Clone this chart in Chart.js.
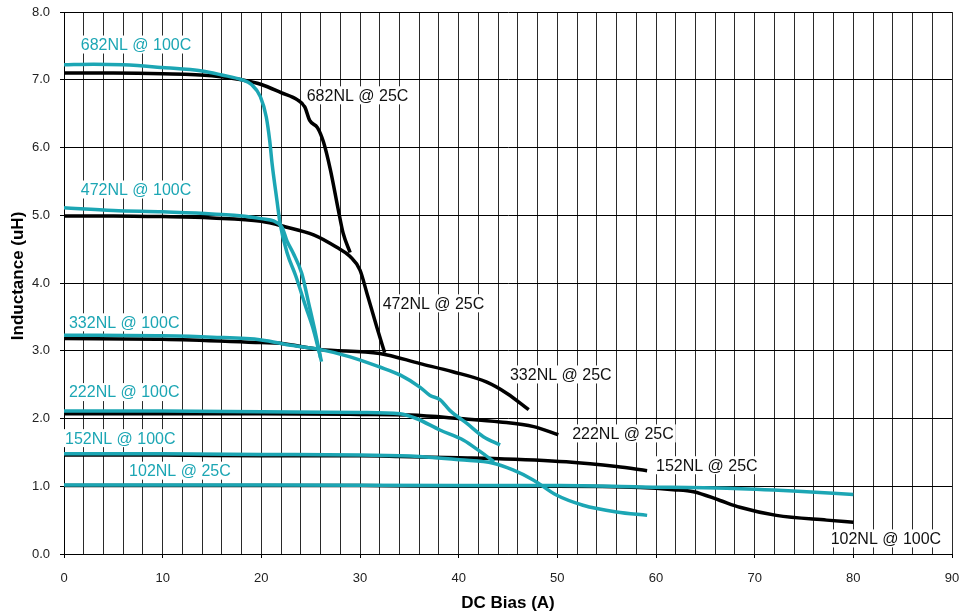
<!DOCTYPE html>
<html><head><meta charset="utf-8">
<script src="https://cdn.jsdelivr.net/npm/chart.js@4.4.1/dist/chart.umd.min.js"></script>
<style>html,body{margin:0;padding:0;background:#fff;}</style>
</head><body>
<canvas id="c" width="960" height="616"></canvas>
<script>
// ---- data (DC bias in A, inductance in uH) ----
const xTickLabels = [0, 10, 20, 30, 40, 50, 60, 70, 80, 90];
const yTickLabels = ['0.0','1.0','2.0','3.0','4.0','5.0','6.0','7.0','8.0'];

const bias682_25 = [0, 5, 10, 15, 18, 20, 22, 23.7, 24.4, 24.9, 25.7, 26.3, 27.0, 27.8, 28.3, 29.0];
const ind682_25  = [7.10, 7.10, 7.09, 7.06, 7.00, 6.93, 6.81, 6.70, 6.60, 6.40, 6.29, 6.08, 5.67, 5.08, 4.73, 4.45];

const bias682_100 = [0, 3, 6, 10, 14, 16, 18, 19.0, 19.9, 20.5, 20.85, 21.1, 21.6, 21.9, 22.6, 23.5, 24.5, 25.3, 26.1];
const ind682_100  = [7.22, 7.23, 7.22, 7.18, 7.13, 7.07, 7.00, 6.93, 6.75, 6.45, 6.10, 5.75, 5.20, 4.88, 4.45, 4.10, 3.65, 3.30, 2.84];

const bias472_25 = [0, 5, 10, 15, 20, 22.4, 25.3, 27.6, 29.0, 30.0, 30.7, 31.7, 32.5];
const ind472_25  = [4.99, 4.99, 4.98, 4.96, 4.91, 4.83, 4.71, 4.53, 4.39, 4.19, 3.85, 3.35, 2.97];

const bias472_100 = [0, 5, 10, 15, 20, 22.06, 22.6, 23.2, 24.1, 24.8, 25.5, 26.0];
const ind472_100  = [5.11, 5.07, 5.05, 5.02, 4.95, 4.83, 4.62, 4.45, 4.14, 3.70, 3.25, 2.90];

const bias332_25 = [0, 10, 20, 21.9, 25.9, 32.0, 36.1, 39.4, 42.8, 44.9, 47.1];
const ind332_25  = [3.18, 3.17, 3.12, 3.11, 3.02, 2.96, 2.81, 2.69, 2.54, 2.37, 2.13];

const bias332_100 = [0, 10, 15, 20, 23, 25.9, 29.0, 32.0, 34.1, 36.1, 37.1, 38.1, 39.1, 40.8, 42.5, 44.2];
const ind332_100  = [3.23, 3.22, 3.20, 3.16, 3.08, 3.02, 2.91, 2.76, 2.64, 2.46, 2.34, 2.28, 2.12, 1.93, 1.73, 1.61];

const bias222_25 = [0, 10, 20, 30, 35.1, 40.1, 44.2, 47.6, 50.1];
const ind222_25  = [2.07, 2.07, 2.07, 2.06, 2.05, 2.00, 1.95, 1.88, 1.76];

const bias222_100 = [0, 10, 20, 30, 34.05, 35.7, 38.1, 40.5, 42.2, 43.6];
const ind222_100  = [2.11, 2.11, 2.10, 2.09, 2.07, 2.00, 1.83, 1.68, 1.51, 1.36];

const bias152_25 = [0, 10, 20, 30, 34.05, 40, 43.5, 50.9, 56.0, 59.1];
const ind152_25  = [1.46, 1.46, 1.45, 1.45, 1.44, 1.42, 1.41, 1.36, 1.29, 1.23];

const bias152_100 = [0, 10, 20, 30, 36, 40.1, 43.5, 45.5, 47.6, 49.9, 52.6, 56.0, 59.1];
const ind152_100  = [1.48, 1.48, 1.47, 1.46, 1.44, 1.39, 1.34, 1.24, 1.09, 0.87, 0.72, 0.62, 0.57];

const bias102_black = [0, 10, 20, 30, 40, 50, 58.4, 61.75, 63.8, 66.5, 68.5, 72.2, 77.3, 80];
const ind102_black  = [1.01, 1.01, 1.01, 1.01, 1.00, 1.00, 0.98, 0.95, 0.92, 0.79, 0.69, 0.57, 0.50, 0.47];

const bias102_teal = [0, 20, 40, 50.3, 58.4, 67.2, 73.9, 80];
const ind102_teal  = [1.02, 1.02, 1.01, 1.01, 0.99, 0.97, 0.93, 0.88];

const curveLabels = ['682NL @ 100C','682NL @ 25C','472NL @ 100C','472NL @ 25C','332NL @ 100C','332NL @ 25C',
                     '222NL @ 100C','222NL @ 25C','152NL @ 100C','152NL @ 25C','102NL @ 25C','102NL @ 100C'];

// ---- styling ----
const TEAL = '#1ca6b4';
const BLACK = '#000000';
const FONT = '"Liberation Sans", Arial, Helvetica, sans-serif';

function pts(xs, ys){ return xs.map((x,i)=>({x:x, y:ys[i]})); }
function ds(label, xs, ys, color){
  return {label, data: pts(xs, ys), borderColor: color, backgroundColor: color,
          borderWidth: 3.5, pointRadius: 0, fill: false, cubicInterpolationMode: 'monotone',
          borderCapStyle: 'butt', borderJoinStyle: 'round'};
}

// teal first so they are drawn on top
const datasets = [
  ds('682NL @ 100C', bias682_100, ind682_100, TEAL),
  ds('472NL @ 100C', bias472_100, ind472_100, TEAL),
  ds('332NL @ 100C', bias332_100, ind332_100, TEAL),
  ds('222NL @ 100C', bias222_100, ind222_100, TEAL),
  ds('152NL @ 100C', bias152_100, ind152_100, TEAL),
  ds('102NL @ 25C', bias102_teal, ind102_teal, TEAL),
  ds('682NL @ 25C', bias682_25, ind682_25, BLACK),
  ds('472NL @ 25C', bias472_25, ind472_25, BLACK),
  ds('332NL @ 25C', bias332_25, ind332_25, BLACK),
  ds('222NL @ 25C', bias222_25, ind222_25, BLACK),
  ds('152NL @ 25C', bias152_25, ind152_25, BLACK),
  ds('102NL @ 100C', bias102_black, ind102_black, BLACK)
];

// label placement (data coordinates of left edge / vertical centre)
const labelPlacement = [
  {x: 1.7,  y: 7.52, color: TEAL},
  {x: 24.6, y: 6.77, color: '#111'},
  {x: 1.7,  y: 5.38, color: TEAL},
  {x: 32.3, y: 3.70, color: '#111'},
  {x: 0.5,  y: 3.42, color: TEAL},
  {x: 45.2, y: 2.65, color: '#111'},
  {x: 0.5,  y: 2.39, color: TEAL},
  {x: 51.5, y: 1.78, color: '#111'},
  {x: 0.1,  y: 1.71, color: TEAL},
  {x: 60.0, y: 1.31, color: '#111'},
  {x: 6.6,  y: 1.23, color: TEAL},
  {x: 77.7, y: 0.23, color: '#111'}
];

const labelPlugin = {
  id: 'curveLabels',
  afterDatasetsDraw(chart){
    const ctx = chart.ctx, xs = chart.scales.x, ys = chart.scales.y;
    ctx.save();
    ctx.font = '16px ' + FONT;
    ctx.textBaseline = 'middle';
    ctx.textAlign = 'left';
    curveLabels.forEach((text, i) => {
      const p = labelPlacement[i];
      const px = xs.getPixelForValue(p.x), py = ys.getPixelForValue(p.y);
      const w = ctx.measureText(text).width;
      ctx.fillStyle = '#fff';
      ctx.fillRect(px - 2, py - 9, w + 4, 18);
      ctx.fillStyle = p.color;
      ctx.fillText(text, px, py + 1);
    });
    ctx.restore();
  }
};

new Chart(document.getElementById('c'), {
  type: 'line',
  data: {datasets},
  plugins: [labelPlugin],
  options: {
    responsive: false,
    animation: false,
    devicePixelRatio: 1,
    layout: {padding: {left: 0, right: 8, top: 12, bottom: 0}},
    plugins: {legend: {display: false}, tooltip: {enabled: false}},
    scales: {
      x: {
        type: 'linear', min: 0, max: 90,
        afterFit(s){ s.height = 62; s.paddingLeft = 0; s.paddingRight = 0; },
        ticks: {
          stepSize: 2, autoSkip: false, maxRotation: 0,
          color: '#222', font: {family: FONT, size: 13}, padding: 13,
          callback: v => (xTickLabels.includes(v) ? String(v) : '')
        },
        grid: {color: '#2a2a2a', lineWidth: 1, tickLength: 4,
               tickColor: c => (c.tick && xTickLabels.includes(c.tick.value) ? '#000' : 'rgba(0,0,0,0)')},
        border: {display: true, color: '#000', width: 1},
        title: {display: true, text: 'DC Bias (A)', color: '#000',
                font: {family: FONT, size: 17, weight: 'bold'}, padding: {top: 0, bottom: 2}}
      },
      y: {
        type: 'linear', min: 0, max: 8,
        afterFit(s){ s.width = 64; s.paddingTop = 0; s.paddingBottom = 0; },
        ticks: {
          stepSize: 1, color: '#222', font: {family: FONT, size: 13}, padding: 10,
          callback: v => yTickLabels[Math.round(v)]
        },
        grid: {color: '#000', lineWidth: 1, tickLength: 4, tickColor: '#000'},
        border: {display: true, color: '#000', width: 1},
        title: {display: true, text: '   Inductance (uH)', color: '#000',
                font: {family: FONT, size: 17, weight: 'bold'}, padding: {top: 8, bottom: 0}}
      }
    }
  }
});
</script>
</body></html>
